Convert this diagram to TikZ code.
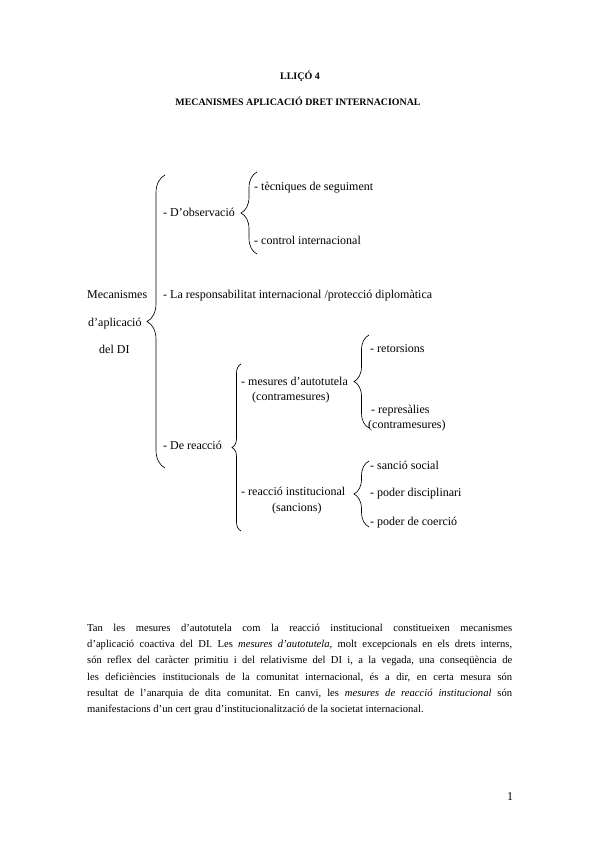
\documentclass[tikz,border=0pt]{standalone}
\usepackage{fontspec}
\setmainfont{Liberation Serif}
\usetikzlibrary{decorations.pathreplacing}

\begin{document}
\begin{tikzpicture}[x=1pt,y=-1pt,
    every node/.style={inner sep=0pt,font=\fontsize{12}{14}\selectfont},
    item/.style={anchor=base west},
    brc/.style={decorate,decoration={brace,amplitude=#1},line width=0.65pt},
    brc/.default=17pt]
  \useasboundingbox[fill=white] (0,0) rectangle (599,848);
  % titles
  \node[font=\fontsize{10}{12}\selectfont\bfseries,anchor=base] (lesson) at (300,80) {LLIÇÓ 4};
  \node[font=\fontsize{9.9}{12}\selectfont\bfseries,anchor=base] (title) at (298,106) {MECANISMES APLICACIÓ DRET INTERNACIONAL};
  % left column
  \node[item] (mec) at (87,298) {Mecanismes};
  \node[item] (apl) at (88,326) {d’aplicació};
  \node[item] (di) at (99,353) {del DI};
  % first level
  \node[item] (obs) at (163,216) {- D’observació};
  \node[item] (resp) at (163,298) {- La responsabilitat internacional /protecció diplomàtica};
  \node[item] (reac) at (163,449) {- De reacció};
  % D'observacio
  \node[item] (tec) at (254,190) {- tècniques de seguiment};
  \node[item] (ctrl) at (254,244) {- control internacional};
  % De reaccio
  \node[item] (aut) at (241,385) {- mesures d’autotutela};
  \node[item] (aut2) at (252,400) {(contramesures)};
  \node[item] (inst) at (241,495) {- reacció institucional};
  \node[item] (inst2) at (272,511) {(sancions)};
  \node[item] (ret) at (370,352) {- retorsions};
  \node[item] (rep) at (371,413) {- represàlies};
  \node[item] (rep2) at (368,428) {(contramesures)};
  \node[item] (soc) at (370,469) {- sanció social};
  \node[item] (disc) at (370,496) {- poder disciplinari};
  \node[item] (coer) at (370,525) {- poder de coerció};
  % braces
  \coordinate (b1s) at (165,468); \coordinate (b1e) at (165,175);
  \coordinate (b2s) at (257,254); \coordinate (b2e) at (257,172);
  \coordinate (b3s) at (241,531); \coordinate (b3e) at (241,364);
  \coordinate (b4s) at (369,428); \coordinate (b4e) at (369,335);
  \coordinate (b5s) at (369,527); \coordinate (b5e) at (369,461);
  \draw[brc=18pt] (b1s) -- (b1e);
  \draw[brc=16pt] (b2s) -- (b2e);
  \draw[brc=9pt] (b3s) -- (b3e);
  \draw[brc=15pt] (b4s) -- (b4e);
  \draw[brc=15pt] (b5s) -- (b5e);
  % paragraph
  \node[anchor=north west,text width=425pt,align=justify,
        font=\fontsize{10.6}{16.2}\selectfont\frenchspacing] (txt) at (87,624)
    {Tan les mesures d’autotutela com la reacció institucional constitueixen mecanismes\linebreak
     d’aplicació coactiva del DI. Les \textit{mesures d’autotutela}, molt excepcionals en els drets interns,\linebreak
     són reflex del caràcter primitiu i del relativisme del DI i, a la vegada, una conseqüència de\linebreak
     les deficiències institucionals de la comunitat internacional, és a dir, en certa mesura són\linebreak
     resultat de l’anarquia de dita comunitat. En canvi, les \textit{mesures de reacció institucional} són\linebreak
     manifestacions d’un cert grau d’institucionalització de la societat internacional.};
  % page number
  \node[anchor=base] (page) at (510,800) {1};
\end{tikzpicture}
\end{document}
